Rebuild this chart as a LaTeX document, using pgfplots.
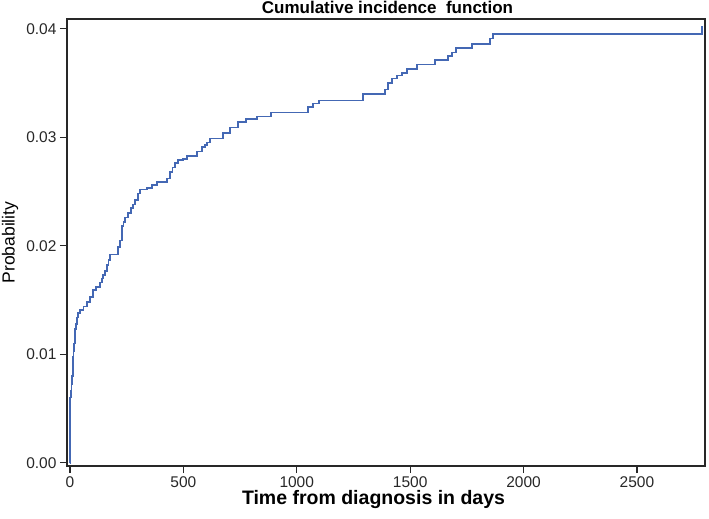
\documentclass[border=0pt]{standalone}
\usepackage{fontspec}
\setmainfont{Liberation Sans}
\usepackage{pgfplots}
\pgfplotsset{compat=1.18}
\definecolor{curve}{RGB}{68,104,180}
\definecolor{frame}{RGB}{40,40,40}
\begin{document}
\begin{tikzpicture}
\begin{axis}[
  at={(0,0)}, anchor=south west,
  scale only axis, width=638pt, height=447pt,
  xmin=-13, xmax=2800, ymin=-0.0003, ymax=0.0409,
  axis line style={frame, line width=1.3pt},
  xtick={0,500,1000,1500,2000,2500},
  ytick={0,0.01,0.02,0.03,0.04},
  tick align=outside, major tick length=7pt,
  xtick pos=bottom, ytick pos=left,
  tick style={frame, line width=1.2pt},
  scaled y ticks=false,
  xticklabel style={/pgf/number format/1000 sep={}},
  yticklabel style={/pgf/number format/fixed, /pgf/number format/fixed zerofill, /pgf/number format/precision=2},
  /pgf/number format/assume math mode=true,
  ticklabel style={font=\fontsize{15.5}{17}\selectfont, text=frame},
  xlabel={Time from diagnosis in days},
  xlabel style={at={(axis description cs:0.4804,-0.0872)}, anchor=base, font=\bfseries\fontsize{19.5}{21}\selectfont},
  ylabel={Probability},
  ylabel style={at={(axis description cs:-0.0893,0.5)}, anchor=center, rotate=0, font=\fontsize{17.5}{19}\selectfont},
]
\addplot[const plot, curve, line width=1.6pt] coordinates {
(0,0) (1,0.0060) (5,0.0066) (7,0.0072) (10,0.0080) (13,0.0098) (16,0.0103)
(19,0.0110) (22,0.0123) (26,0.0128) (30,0.0134) (36,0.0138) (44,0.0141)
(60,0.0144) (75,0.0148) (88,0.0153) (101,0.0159) (115,0.0162) (132,0.0166)
(140,0.0170) (146,0.0173) (155,0.0177) (163,0.0182) (170,0.0187) (176,0.0192)
(212,0.0199) (220,0.0205) (229,0.0218) (236,0.0222) (243,0.0226) (255,0.0230)
(269,0.0235) (278,0.0238) (287,0.0242) (300,0.0248) (309,0.0252) (340,0.0253)
(362,0.0256) (384,0.0259) (428,0.0262) (441,0.0268) (452,0.0272) (463,0.0276)
(476,0.0279) (498,0.0280) (516,0.0283) (560,0.0287) (582,0.0291) (595,0.0293)
(604,0.0295) (617,0.0299) (675,0.0304) (705,0.0309) (741,0.0314) (776,0.0317)
(825,0.0319) (886,0.0323) (1049,0.0328) (1071,0.0331) (1098,0.0334) (1292,0.0340)
(1389,0.0344) (1402,0.0350) (1420,0.0354) (1442,0.0357) (1464,0.0359) (1486,0.0363)
(1530,0.0367) (1609,0.0371) (1667,0.0375) (1684,0.0378) (1702,0.0382) (1772,0.0386)
(1852,0.0391) (1865,0.0395) (2787,0.0395) (2787,0.0403)
};
\end{axis}
\node[anchor=base, font=\bfseries\fontsize{17}{19}\selectfont] at (320.5pt,452pt) {Cumulative incidence\ \ function};
\pgfresetboundingbox
\path (-67pt,-53pt) rectangle (642pt,466pt);
\end{tikzpicture}
\end{document}
